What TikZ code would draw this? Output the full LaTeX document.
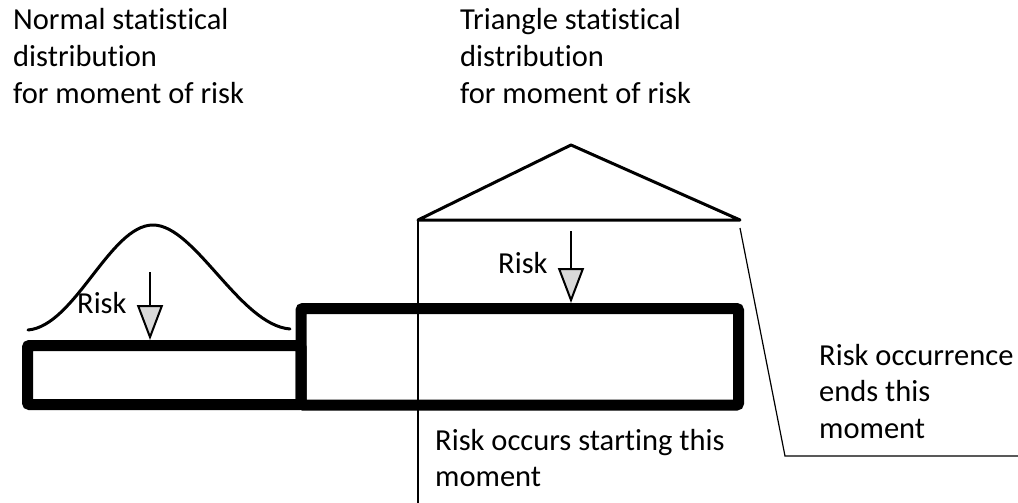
\documentclass[tikz,border=0pt]{standalone}
\usepackage{fontspec}
\setmainfont{Carlito}[Ligatures=NoCommon]
\usetikzlibrary{arrows.meta}
\definecolor{tipgray}{HTML}{D9D9D9}
% left-aligned lines whose anchor is the first baseline
\newcommand{\textlines}[1]{\begin{tabular}[t]{@{}l@{}}#1\end{tabular}}

\begin{document}
\begin{tikzpicture}[x=1pt,y=-1pt,
  lbl/.style={inner sep=0pt, anchor=base west, font=\fontsize{30.5}{36.6}\selectfont},
  bar/.style={draw, line width=11pt, rounded corners=2pt, inner sep=0pt},
  curve/.style={line width=3pt, line join=round, line cap=round},
  guide/.style={line width=1.2pt},
  riskarrow/.style={line width=2.5pt, -{Triangle[length=35pt,width=26pt,fill=tipgray,line width=2pt]}},
]
\useasboundingbox (0,0) rectangle (1018,503);

% time bars
\node[bar, minimum width=273.5pt, minimum height=59pt] (barA) at (164.25,375) {};
\node[bar, minimum width=437.5pt, minimum height=96.5pt] (barB) at (519.75,356.75) {};

% normal distribution over the first bar
\coordinate (bellL) at (28,330);
\coordinate (bellT) at (153,225);
\coordinate (bellR) at (290,329);
\draw[curve] (bellL) .. controls (75,326) and (110,225) .. (bellT)
                     .. controls (195,225) and (240,325) .. (bellR);

% triangle distribution over the second bar
\coordinate (triL) at (418,220);
\coordinate (triT) at (571,145);
\coordinate (triR) at (740,220);
\draw[curve, line cap=butt] (triL) -- (triT) -- (triR) -- cycle;

% risk moments
\coordinate (riskAtop) at (150,272);
\coordinate (riskAtip) at (150,340);
\coordinate (riskBtop) at (571,231);
\coordinate (riskBtip) at (571,303);
\draw[riskarrow] (riskAtop) -- (riskAtip);
\draw[riskarrow] (riskBtop) -- (riskBtip);

% guide lines to the labels
\coordinate (startEnd) at (418,503);
\coordinate (endStart) at (740,228);
\coordinate (endBend) at (785,456);
\coordinate (endEnd) at (1018,456);
\draw[guide] (triL) -- (startEnd);
\draw[guide] (endStart) -- (endBend) -- (endEnd);

% labels
\node[lbl] (normalLbl) at (13,30) {\textlines{Normal statistical\\distribution\\for moment of risk}};
\node[lbl] (triangleLbl) at (460,30) {\textlines{Triangle statistical\\distribution\\for moment of risk}};
\node[lbl] (riskA) at (77,313) {Risk};
\node[lbl] (riskB) at (498,273) {Risk};
\node[lbl] (startLbl) at (435,450) {\textlines{Risk occurs starting this\\moment}};
\node[lbl] (endLbl) at (819,365) {\textlines{Risk occurrence\\ends this\\moment}};
\end{tikzpicture}
\end{document}
